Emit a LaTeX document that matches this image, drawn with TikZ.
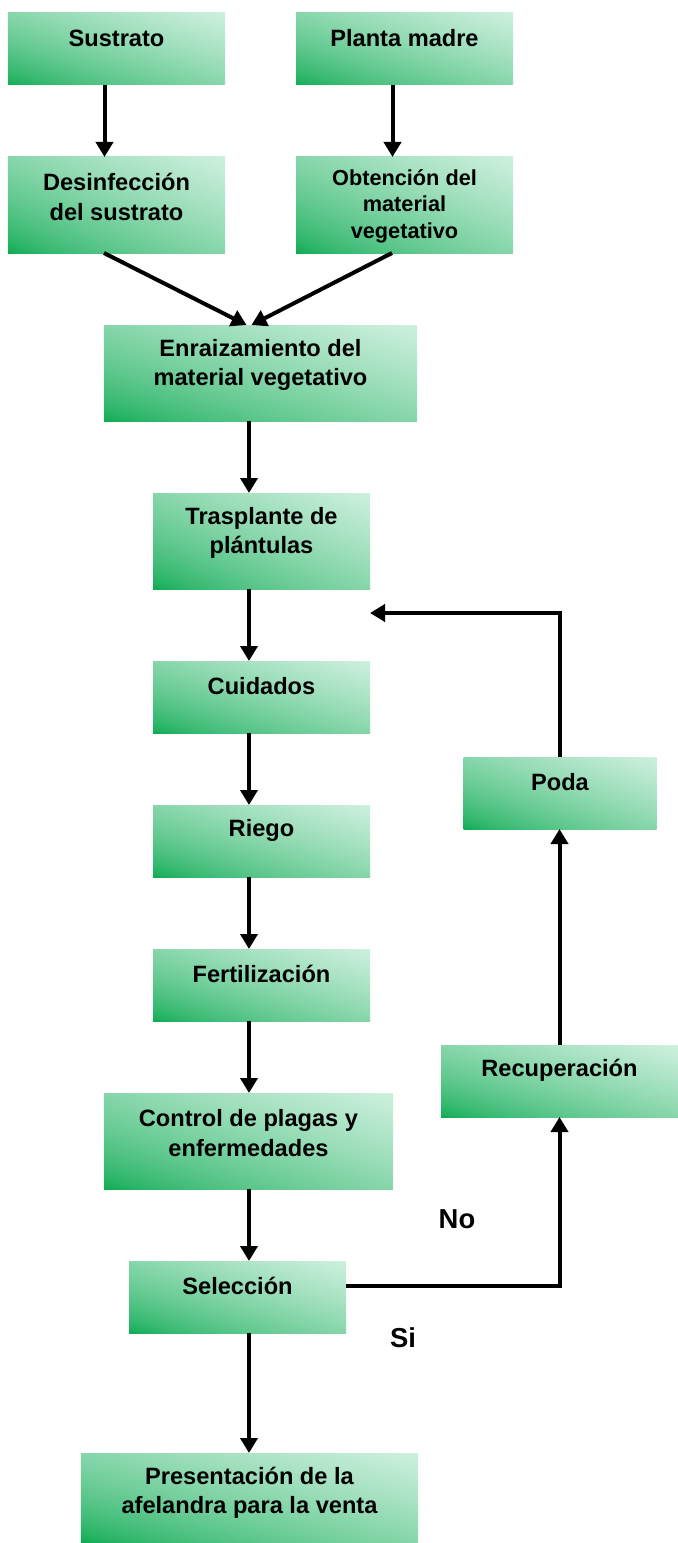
\documentclass[tikz,border=0pt]{standalone}
\usepackage{fontspec}
\setmainfont{Liberation Sans}
\usetikzlibrary{arrows.meta}
\pgfdeclarefunctionalshading{gdiag}{\pgfpointorigin}{\pgfpoint{100bp}{100bp}}{}{
  add 50 sub 100 div
  dup 0 lt {pop 0} if
  dup 1 gt {pop 1} if
  0.65 exp
  dup 0.777 mul 0.031 add exch
  dup 0.282 mul 0.659 add exch
  0.565 mul 0.306 add
}
\tikzset{
  box/.style={rectangle, inner sep=0pt, outer sep=0pt, draw=none,
    shade, shading=gdiag, shading angle=0},
  txt/.style={font=\bfseries\fontsize{23.7}{29.5}\selectfont, align=center, text=black, inner sep=0pt},
  txts/.style={font=\bfseries\fontsize{21.8}{26.5}\selectfont, align=center, text=black, inner sep=0pt},
  big/.style={font=\bfseries\fontsize{27.5}{33}\selectfont, text=black, inner sep=0pt},
  arr/.style={line width=4bp, -{Triangle[width=17bp,length=15bp]}},
}
\begin{document}
\begin{tikzpicture}[x=1bp,y=-1bp]
\useasboundingbox (0,0) rectangle (678,1543);
% boxes
\node[box, minimum width=217bp, minimum height=72bp, label={[txt,yshift=11bp]center:Sustrato}] (sus) at (116.5,49) {};
\node[box, minimum width=217bp, minimum height=72bp, label={[txt,yshift=11bp]center:Planta madre}] (pla) at (404.5,49) {};
\node[box, minimum width=217bp, minimum height=96bp, label={[txt,yshift=8bp]center:{Desinfección\\del sustrato}}] (des) at (116.5,205) {};
\node[box, minimum width=217bp, minimum height=96bp, label={[txts,yshift=-1bp]center:{Obtención del\\material\\vegetativo}}] (obt) at (404.5,205) {};
\node[box, minimum width=313bp, minimum height=96bp, label={[txt,yshift=8bp]center:{Enraizamiento del\\material vegetativo}}] (enr) at (260.5,373) {};
\node[box, minimum width=217bp, minimum height=96bp, label={[txt,yshift=8bp]center:{Trasplante de\\plántulas}}] (tra) at (261.5,541) {};
\node[box, minimum width=217bp, minimum height=72bp, label={[txt,yshift=11bp]center:Cuidados}] (cui) at (261.5,697) {};
\node[box, minimum width=217bp, minimum height=72bp, label={[txt,yshift=11bp]center:Riego}] (rie) at (261.5,841) {};
\node[box, minimum width=217bp, minimum height=72bp, label={[txt,yshift=11bp]center:Fertilización}] (fer) at (261.5,985) {};
\node[box, minimum width=289bp, minimum height=96bp, label={[txt,yshift=8bp]center:{Control de plagas y\\enfermedades}}] (con) at (248.5,1141) {};
\node[box, minimum width=217bp, minimum height=72bp, label={[txt,yshift=11bp]center:Selección}] (sel) at (237.5,1297) {};
\node[box, minimum width=337bp, minimum height=89bp, label={[txt,yshift=5bp]center:{Presentación de la\\afelandra para la venta}}] (pre) at (249.5,1497.5) {};
\node[box, minimum width=193bp, minimum height=72bp, label={[txt,yshift=11bp]center:Poda}] (pod) at (560,793) {};
\node[box, minimum width=237bp, minimum height=72bp, label={[txt,yshift=11bp]center:Recuperación}] (rec) at (559.5,1081) {};
% labels
\node[big] (no) at (457,1219) {No};
\node[big] (si) at (403,1338) {Si};
% coordinates
\coordinate (colx) at (249,0);
\coordinate (ret) at (370,613);
% arrows
\draw[arr] ([xshift=-12bp]sus.south) -- ([xshift=-12bp]des.north);
\draw[arr] ([xshift=-12bp]pla.south) -- ([xshift=-12bp]obt.north);
\draw[arr] ([xshift=-12.5bp]des.south) -- ([xshift=-14bp]enr.north);
\draw[arr] ([xshift=-12.5bp]obt.south) -- ([xshift=-9bp]enr.north);
\draw[arr] (enr.south -| colx) -- (tra.north -| colx);
\draw[arr] (tra.south -| colx) -- (cui.north -| colx);
\draw[arr] (cui.south -| colx) -- (rie.north -| colx);
\draw[arr] (rie.south -| colx) -- (fer.north -| colx);
\draw[arr] (fer.south -| colx) -- (con.north -| colx);
\draw[arr] (con.south -| colx) -- (sel.north -| colx);
\draw[arr] (sel.south -| colx) -- (pre.north -| colx);
\draw[arr] ([yshift=11bp]sel.east) -| (rec.south);
\draw[arr] (rec.north) -- (rec.north |- pod.south);
\draw[arr] (pod.north) |- (ret);
\end{tikzpicture}
\end{document}
